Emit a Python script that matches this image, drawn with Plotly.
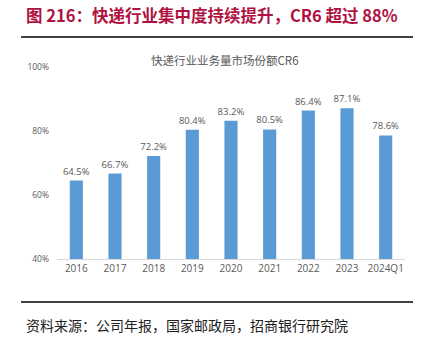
import plotly.graph_objects as go

categories = ["2016", "2017", "2018", "2019", "2020", "2021", "2022", "2023", "2024Q1"]
values = [64.5, 66.7, 72.2, 80.4, 83.2, 80.5, 86.4, 87.1, 78.6]
labels = [f"{v:.1f}%" for v in values]
y_ticks = [40, 60, 80, 100]
y_tick_text = ["40%", "60%", "80%", "100%"]

W, H = 422, 341
L, R, T, B = 57, 17, 67, 82
pw, ph = W - L - R, H - T - B

def px(x):
    return (x - L) / pw

def py(y):
    return (H - B - y) / ph

fig = go.Figure()
fig.add_trace(go.Bar(
    x=categories, y=values,
    marker=dict(color="#5B9BD5", line=dict(width=0)),
    text=labels, textposition="outside", cliponaxis=False,
    constraintext="none",
    textfont=dict(size=9.5, color="#595959", family="Open Sans, Noto Sans"),
))

fig.update_layout(
    width=W, height=H,
    margin=dict(l=L, r=R, t=T, b=B),
    paper_bgcolor="white", plot_bgcolor="white",
    bargap=0.66, showlegend=False,
    font=dict(family="Noto Sans CJK SC, Noto Sans", color="#595959"),
    xaxis=dict(showline=True, linecolor="#D9D9D9", linewidth=1, ticks="",
               tickfont=dict(size=10, color="#595959", family="Open Sans, Noto Sans"),
               fixedrange=True),
    yaxis=dict(range=[40, 100], tickvals=y_ticks, ticktext=y_tick_text,
               showgrid=False, zeroline=False, showline=False,
               tickfont=dict(size=8.5, color="#595959", family="Open Sans, Noto Sans"),
               ticklabelstandoff=7),
)

fig.add_shape(type="line", xref="paper", yref="paper",
              x0=px(21), x1=px(413), y0=py(37), y1=py(37),
              line=dict(color="#404040", width=2))
fig.add_shape(type="line", xref="paper", yref="paper",
              x0=px(21), x1=px(413), y0=py(302), y1=py(302),
              line=dict(color="#404040", width=2))

fig.add_annotation(text="<b>图 216：快递行业集中度持续提升，CR6 超过 88%</b>",
                   xref="paper", yref="paper", x=px(24), y=py(15),
                   xanchor="left", yanchor="middle", showarrow=False,
                   font=dict(size=16.5, color="#B0123F", family="Noto Sans CJK SC"))
fig.add_annotation(text="快递行业业务量市场份额CR6",
                   xref="paper", yref="paper", x=px(225), y=py(60),
                   xanchor="center", yanchor="middle", showarrow=False,
                   font=dict(size=11.5, color="#595959", family="Noto Sans CJK SC"))
fig.add_annotation(text="资料来源：公司年报，国家邮政局，招商银行研究院",
                   xref="paper", yref="paper", x=px(24), y=py(325),
                   xanchor="left", yanchor="middle", showarrow=False,
                   font=dict(size=14, color="#202020", family="Noto Sans CJK SC"))

fig.write_html("out.html")
